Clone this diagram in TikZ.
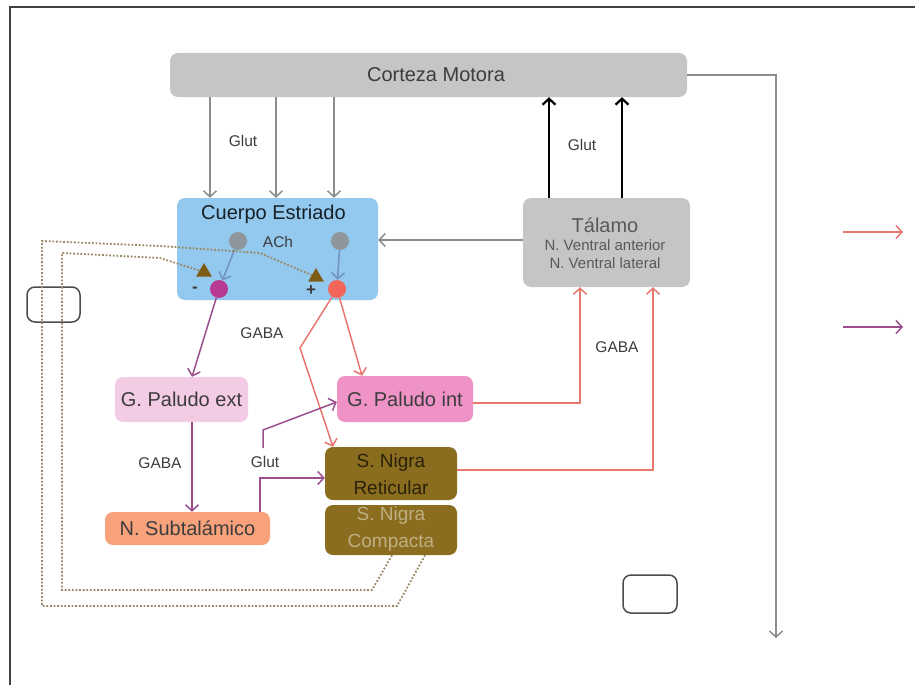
\documentclass[tikz,border=0pt]{standalone}
\usepackage{fontspec}
\setmainfont{Liberation Sans}
\usetikzlibrary{arrows.meta,shapes.geometric}
\definecolor{cgray}{HTML}{C4C5C7}
\definecolor{cblue}{HTML}{93C9EE}
\definecolor{cgpe}{HTML}{F3CBE5}
\definecolor{cgpi}{HTML}{EF92C6}
\definecolor{cnst}{HTML}{F7A27B}
\definecolor{csn}{HTML}{8B6D1F}
\definecolor{lgray}{HTML}{8C8C8C}
\definecolor{cpurple}{HTML}{9A4F8C}
\definecolor{cred}{HTML}{E8786F}
\definecolor{txtgray}{HTML}{3C3C3C}
\definecolor{cdot}{HTML}{9A8763}
\definecolor{cinner}{HTML}{7396C4}
\definecolor{ccircg}{HTML}{8E959B}
\definecolor{cmag}{HTML}{B83A93}
\definecolor{ccircr}{HTML}{F2655B}
\definecolor{ctri}{HTML}{7D5D16}
\begin{document}
\begin{tikzpicture}[x=1pt,y=-1pt,
  box/.style={rounded corners=8pt, inner sep=0pt, draw=none, text=txtgray},
  big/.style={font=\fontsize{20}{22}\selectfont},
  lbl/.style={font=\fontsize{15.5}{17}\selectfont, text=txtgray, inner sep=0pt},
  tip/.style={-{Straight Barb[length=6pt,width=13pt]}},
  garrow/.style={draw=lgray, line width=1.5pt, tip},
  barrow/.style={draw=black, line width=2.2pt, tip},
  parrow/.style={draw=cpurple, line width=1.5pt, tip},
  rarrow/.style={draw=cred, line width=1.5pt, tip},
  iarrow/.style={draw=cinner, line width=1.7pt, tip},
  dotline/.style={draw=cdot, line width=1.8pt, dash pattern=on 1.8pt off 1.8pt},
  legbox/.style={draw=black!70, line width=1.5pt, rounded corners=8pt, inner sep=0pt},
  circ/.style={circle, inner sep=0pt, minimum size=18pt, draw=none},
  tri/.style={regular polygon, regular polygon sides=3, inner sep=0pt, minimum size=18pt, fill=ctri, draw=none}
]
\useasboundingbox (0,0) rectangle (915,685);
% frame
\coordinate (fa) at (10,685);
\coordinate (fb) at (10,7);
\coordinate (fc) at (915,7);
\draw[black!75, line width=1.6pt] (fa) -- (fb) -- (fc);

% boxes
\node[box, fill=cgray, minimum width=517pt, minimum height=44pt] (cm) at (428.5,75) {};
\node[big, text=txtgray] (cmt) at (436,75) {Corteza Motora};
\node[box, fill=cblue, minimum width=201pt, minimum height=102pt] (str) at (277.5,249) {};
\node[big, text=black!60!cblue!40!black] (strt) at (273.5,214) {Cuerpo Estriado};
\node[box, fill=cgray, minimum width=167pt, minimum height=89pt] (th) at (606.5,242.5) {};
\node[font=\fontsize{20}{22}\selectfont, text=black!65] (tht) at (605,225) {Tálamo};
\node[font=\fontsize{15}{16}\selectfont, text=black!65] (tha) at (605,245) {N. Ventral anterior};
\node[font=\fontsize{15}{16}\selectfont, text=black!65] (thb) at (605,263) {N. Ventral lateral};
\node[box, big, fill=cgpe, minimum width=133pt, minimum height=45pt] (gpe) at (181.5,399.5) {G. Paludo ext};
\node[box, big, fill=cgpi, minimum width=136pt, minimum height=46pt] (gpi) at (405,399) {G. Paludo int};
\node[box, big, fill=cnst, minimum width=165pt, minimum height=33pt] (nst) at (187.5,528.5) {N. Subtalámico};
\node[box, fill=csn, minimum width=132pt, minimum height=53pt] (snr) at (391,473.5) {};
\node[font=\fontsize{19}{27}\selectfont, text=black!70!csn, align=center] (snrt) at (391,474) {S. Nigra\\Reticular};
\node[box, fill=csn, minimum width=132pt, minimum height=50pt] (snc) at (391,530) {};
\node[font=\fontsize{19}{27}\selectfont, text=csn!55!white, align=center] (snct) at (391,529) {S. Nigra\\Compacta};

% legend boxes
\node[legbox, minimum width=53pt, minimum height=35pt] (lg1) at (53.5,304.5) {};
\node[legbox, minimum width=54pt, minimum height=38pt] (lg2) at (650,594) {};

% inside striatum
\node[circ, fill=ccircg] (g1) at (238,241) {};
\node[circ, fill=ccircg] (g2) at (340,241) {};
\node[circ, fill=cmag] (mc) at (219,289) {};
\node[circ, fill=ccircr] (rc) at (337,289) {};
\node[tri] (t1) at (204,272) {};
\node[tri] (t2) at (316,277) {};
\node[lbl] (ach) at (278,242) {ACh};
\node[lbl, font=\fontsize{17}{18}\selectfont\bfseries] (minus) at (195,290) {-};
\node[lbl, font=\fontsize{17}{18}\selectfont\bfseries] (plus) at (311,291) {+};
\draw[iarrow] (g1) -- (mc);
\draw[iarrow] (g2) -- (rc);

% cortex -> striatum
\draw[garrow] (cm.south -| 210,0) -- (str.north -| 210,0);
\draw[garrow] (cm.south -| 276,0) -- (str.north -| 276,0);
\draw[garrow] (cm.south -| 334,0) -- (str.north -| 334,0);
\node[lbl] (glut1) at (243,141) {Glut};
% thalamus -> cortex
\draw[barrow] (th.north -| 549,0) -- (cm.south -| 549,0);
\draw[barrow] (th.north -| 622,0) -- (cm.south -| 622,0);
\node[lbl] (glut2) at (582,145) {Glut};
% thalamus -> striatum
\draw[garrow] (th.west |- 0,240) -- (str.east |- 0,240);
% cortex output
\coordinate (outEnd) at (776,638);
\draw[garrow] (cm.east) -- (outEnd |- cm.east) -- (outEnd);

% striatum outputs
\draw[parrow] (mc) -- (gpe.north -| 192,0);
\draw[rarrow] (rc) -- (gpi.north -| 362,0);
\draw[rarrow] (rc) -- (300,348) -- (snr.north -| 333,0);
\node[lbl] (gaba1) at (262,333) {GABA};
% GPe -> NST
\draw[parrow] (gpe.south -| 192,0) -- (nst.north -| 192,0);
\node[lbl] (gaba2) at (160,463) {GABA};
% NST -> SNr and GPi
\draw[parrow] (nst.north -| 260,0) -- (260,478) -- (snr.west |- 0,478);
\coordinate (gs) at (263,448);
\draw[parrow] (gs) -- (263,430) -- (gpi.west |- 0,402);
\node[lbl] (glut3) at (265,462) {Glut};
% GPi, SNr -> thalamus
\draw[rarrow] (gpi.east |- 0,403) -- (580,403) -- (th.south -| 580,0);
\draw[rarrow] (snr.east |- 0,470) -- (653,470) -- (th.south -| 653,0);
\node[lbl] (gaba3) at (617,347) {GABA};

% dopamine dotted paths
\draw[dotline] (snc.south -| 425,0) -- (397,606) -- (42,606) -- (42,241) -- (160,246) -- (260,253) -- (t2);
\draw[dotline] (snc.south -| 392,0) -- (372,590) -- (62,590) -- (62,253) -- (160,258) -- (t1);

% legend arrows
\coordinate (la1) at (843,232);
\coordinate (lb1) at (903,232);
\coordinate (la2) at (843,327);
\coordinate (lb2) at (903,327);
\draw[rarrow] (la1) -- (lb1);
\draw[parrow] (la2) -- (lb2);
\end{tikzpicture}
\end{document}
